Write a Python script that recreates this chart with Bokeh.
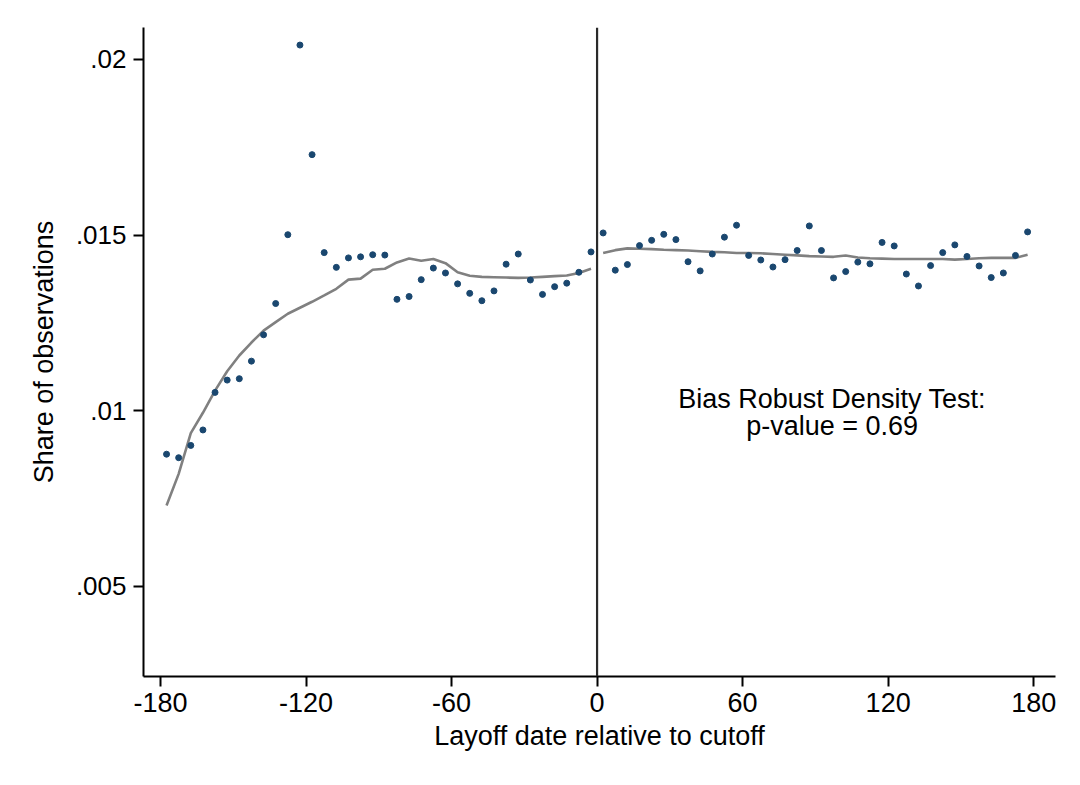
from bokeh.plotting import figure
from bokeh.models import Span, Range1d, FixedTicker
from bokeh.core.properties import value
from bokeh.embed import file_html
from bokeh.resources import INLINE

# bin midpoints (days relative to cutoff)
left_x = [-177.5 + 5 * i for i in range(36)]
right_x = [2.5 + 5 * i for i in range(36)]

left_share = [.00876, .00866, .00901, .00945, .01052, .01087, .01091, .01141, .01216, .01305,
              .01501, .02041, .01729, .01450, .01408, .01435, .01438, .01444, .01443, .01317,
              .01325, .01373, .01406, .01392, .01361, .01334, .01313, .01341, .01417, .01446,
              .01372, .01331, .01353, .01363, .01394, .01452]
right_share = [.01506, .01400, .01416, .01470, .01485, .01502, .01487, .01424, .01398, .01446,
               .01494, .01528, .01442, .01429, .01409, .01430, .01456, .01526, .01456, .01378,
               .01396, .01423, .01418, .01479, .01469, .01389, .01355, .01413, .01450, .01472,
               .01439, .01412, .01379, .01392, .01442, .01509]

left_fit = [.00730, .00820, .00936, .00994, .01057, .01112, .01157, .01194, .01228, .01252,
            .01276, .01293, .01310, .01328, .01347, .01373, .01376, .01401, .01404, .01422,
            .01433, .01427, .01432, .01420, .01394, .01384, .01381, .01380, .01379, .01378,
            .01379, .01381, .01383, .01385, .01392, .01404]
right_fit = [.01449, .01457, .01462, .01461, .01460, .01458, .01457, .01456, .01454, .01452,
             .01451, .01449, .01449, .01448, .01446, .01444, .01442, .01440, .01439, .01438,
             .01442, .01436, .01434, .01433, .01432, .01432, .01432, .01432, .01432, .01430,
             .01432, .01434, .01435, .01435, .01435, .01444]

x_ticks = [-180, -120, -60, 0, 60, 120, 180]
y_ticks = [.005, .01, .015, .02]
y_tick_labels = {.005: ".005", .01: ".01", .015: ".015", .02: ".02"}
note_lines = ["Bias Robust Density Test:", "p-value = 0.69"]

FONT = "Liberation Sans"
FS = "27px"

p = figure(width=1068, height=773, output_backend="svg", toolbar_location=None,
           x_range=Range1d(-187, 189), y_range=Range1d(.00243, .02091),
           min_border_left=143, min_border_right=13, min_border_top=27, min_border_bottom=97)
p.outline_line_color = None
p.grid.grid_line_color = None
p.background_fill_color = "white"
p.border_fill_color = "white"

for ax in (p.xaxis, p.yaxis):
    ax.axis_line_color = "black"
    ax.axis_line_width = 2
    ax.major_tick_line_color = "black"
    ax.major_tick_line_width = 2
    ax.major_tick_out = 10
    ax.major_tick_in = 0
    ax.minor_tick_line_color = None
    ax.major_label_text_font = FONT
    ax.major_label_text_font_size = FS
    ax.major_label_text_color = "black"
    ax.axis_label_text_font = FONT
    ax.axis_label_text_font_size = FS
    ax.axis_label_text_font_style = "normal"
    ax.axis_label_text_color = "black"

p.yaxis.major_label_text_font_size = "26px"
p.xaxis.ticker = FixedTicker(ticks=x_ticks)
p.yaxis.ticker = FixedTicker(ticks=y_ticks)
p.yaxis.major_label_overrides = y_tick_labels
p.xaxis.major_label_overrides = {t: str(t) for t in x_ticks}
p.xaxis.axis_label = "Layoff date relative to cutoff"
p.yaxis.axis_label = "Share of observations"
p.xaxis.major_label_standoff = 6
p.yaxis.major_label_standoff = 7
p.xaxis.axis_label_standoff = 6
p.yaxis.axis_label_standoff = 14

p.add_layout(Span(location=0, dimension="height", line_color="#2a2a2a", line_width=2.2))

p.line(left_x, left_fit, line_color="#808080", line_width=2.6)
p.line(right_x, right_fit, line_color="#808080", line_width=2.6)
p.scatter(left_x, left_share, size=6, color="#1a476f")
p.scatter(right_x, right_share, size=6, color="#1a476f")

p.text(x=[96.9, 96.9], y=[.01034, .00957], text=note_lines,
       text_font=value(FONT), text_font_size=FS, text_align="center",
       text_baseline="middle", text_color="black")

open("out.html", "w").write(file_html(p, INLINE))
